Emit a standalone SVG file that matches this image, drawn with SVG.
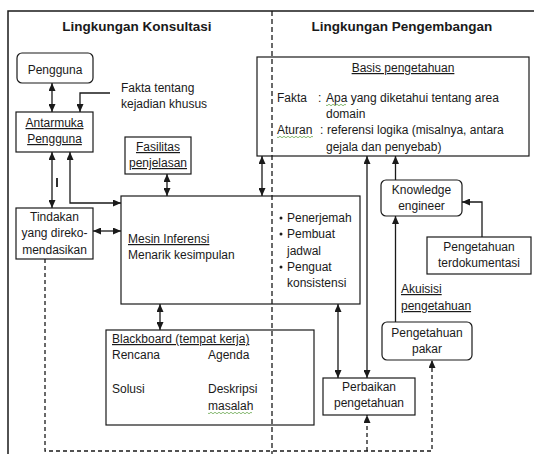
<svg xmlns="http://www.w3.org/2000/svg" width="534" height="454" viewBox="0 0 534 454">
  <style>
    text { font-family: "Liberation Sans", Arial, sans-serif; font-size: 12px; fill: #1a1a1a; }
    .title { font-size: 13.5px; font-weight: bold; }
    .c { text-anchor: middle; }
    .u { text-decoration: underline; }
    .box { fill: none; stroke: #1a1a1a; stroke-width: 1.2; }
    .frame { fill: none; stroke: #1a1a1a; stroke-width: 1.5; }
    .divider { fill: none; stroke: #1a1a1a; stroke-width: 1.3; stroke-dasharray: 5 3; }
    .link { fill: none; stroke: #1a1a1a; stroke-width: 1.3; }
    .both { marker-start: url(#ah); marker-end: url(#ah); }
    .end { marker-end: url(#ah); }
    .dash { stroke-dasharray: 4 3; }
    .spell { fill: none; stroke: #6aa84f; stroke-width: 0.8; }
  </style>
  <defs>
    <marker id="ah" viewBox="0 0 8 7" refX="8" refY="3.5" markerWidth="8" markerHeight="7" markerUnits="userSpaceOnUse" orient="auto-start-reverse">
      <path d="M0,0 L8,3.5 L0,7 z" fill="#1a1a1a"/>
    </marker>
  </defs>

  <rect width="534" height="454" fill="#ffffff"/>

  <!-- outer frame -->
  <path class="frame" d="M8,454 V11 H534"/>

  <text class="title c" x="137" y="31">Lingkungan Konsultasi</text>
  <text class="title c" x="402" y="31">Lingkungan Pengembangan</text>

  <g id="pengguna">
    <rect class="box" x="17" y="53" width="76" height="30" rx="5"/>
    <text class="c" x="55" y="74">Pengguna</text>
  </g>

  <g id="fakta-khusus">
    <text x="121" y="92">Fakta tentang</text>
    <text x="121" y="108">kejadian khusus</text>
  </g>

  <g id="antarmuka">
    <rect class="box" x="16" y="112" width="77" height="40"/>
    <text class="c u" x="54.5" y="127">Antarmuka</text>
    <text class="c u" x="54.5" y="143">Pengguna</text>
  </g>

  <g id="fasilitas">
    <rect class="box" x="125" y="137" width="66" height="37"/>
    <text class="c u" x="158" y="151">Fasilitas</text>
    <text class="c u" x="158" y="167">penjelasan</text>
  </g>

  <g id="basis">
    <rect class="box" x="257" y="57" width="272" height="99"/>
    <text class="c u" x="403" y="72">Basis pengetahuan</text>
    <text x="277" y="102">Fakta</text>
    <text x="318" y="102">:</text>
    <text x="326" y="102">Apa yang diketahui tentang area</text>
    <text x="326" y="118">domain</text>
    <text x="277" y="134">Aturan</text>
    <text x="320" y="134">:</text>
    <text x="327" y="134">referensi logika (misalnya, antara</text>
    <text x="326" y="151">gejala dan penyebab)</text>
    <path class="spell" d="M326,105 q1,1.5 2,0 t2,0 t2,0 t2,0 t2,0 t2,0 t2,0 t2,0 t2,0 t2,0"/>
    <path class="spell" d="M277,137 q1,1.5 2,0 t2,0 t2,0 t2,0 t2,0 t2,0 t2,0 t2,0 t2,0 t2,0 t2,0 t2,0 t2,0 t2,0 t2,0 t2,0 t2,0 t2,0"/>
  </g>

  <g id="tindakan">
    <rect class="box" x="16" y="208" width="77" height="51"/>
    <text class="c" x="54.5" y="221">Tindakan</text>
    <text class="c" x="54.5" y="237">yang direko-</text>
    <text class="c" x="54.5" y="254">mendasikan</text>
  </g>

  <g id="mesin">
    <rect class="box" x="121" y="196" width="239" height="108"/>
    <text class="u" x="128" y="243">Mesin Inferensi</text>
    <text x="128" y="259">Menarik kesimpulan</text>
    <circle cx="281" cy="218" r="1.5" fill="#1a1a1a"/>
    <text x="287" y="222">Penerjemah</text>
    <circle cx="281" cy="234" r="1.5" fill="#1a1a1a"/>
    <text x="287" y="238">Pembuat</text>
    <text x="287" y="255">jadwal</text>
    <circle cx="281" cy="267" r="1.5" fill="#1a1a1a"/>
    <text x="287" y="271">Penguat</text>
    <text x="287" y="287">konsistensi</text>
  </g>

  <g id="blackboard">
    <rect class="box" x="106" y="330" width="208" height="95"/>
    <text class="u" x="112" y="343">Blackboard (tempat kerja)</text>
    <text x="112" y="359">Rencana</text>
    <text x="208" y="359">Agenda</text>
    <text x="112" y="393">Solusi</text>
    <text x="208" y="393">Deskripsi</text>
    <text x="208" y="410">masalah</text>
    <path class="spell" d="M208,413 q1,1.5 2,0 t2,0 t2,0 t2,0 t2,0 t2,0 t2,0 t2,0 t2,0 t2,0 t2,0 t2,0 t2,0 t2,0 t2,0 t2,0 t2,0 t2,0 t2,0 t2,0 t2,0 t2,0"/>
  </g>

  <g id="knowledge-engineer">
    <rect class="box" x="381" y="180" width="81" height="36" rx="5"/>
    <text class="c" x="421.5" y="194">Knowledge</text>
    <text class="c" x="421.5" y="210">engineer</text>
  </g>

  <g id="terdokumentasi">
    <rect class="box" x="427" y="237" width="104" height="37"/>
    <text class="c" x="479" y="251">Pengetahuan</text>
    <text class="c" x="479" y="267">terdokumentasi</text>
  </g>

  <g id="akuisisi">
    <text class="u" x="401" y="293">Akuisisi</text>
    <text class="u" x="401" y="310">pengetahuan</text>
  </g>

  <g id="pakar">
    <rect class="box" x="382" y="322" width="90" height="38" rx="5"/>
    <text class="c" x="427" y="337">Pengetahuan</text>
    <text class="c" x="427" y="353">pakar</text>
  </g>

  <g id="perbaikan">
    <rect class="box" x="323" y="378" width="92" height="37"/>
    <text class="c" x="369" y="391">Perbaikan</text>
    <text class="c" x="369" y="407">pengetahuan</text>
  </g>

  <g id="connectors">
    <path class="link both" d="M52,83 V112"/>
    <path class="link end" d="M110,93 H80 V112"/>
    <path class="link both" d="M52,152 V208"/>
    <path class="link both" d="M70,152 V203 H121"/>
    <path class="link both" d="M93,231 H121"/>
    <path class="link both" d="M167,174 V196"/>
    <path class="link both" d="M262,156 V196"/>
    <path class="link both" d="M160,304 V330"/>
    <path class="link both" d="M338,304 V378"/>
    <path class="link both" d="M367,156 V378"/>
    <path class="link end" d="M395.5,180 V156"/>
    <path class="link end" d="M482,237 V202 H462"/>
    <path class="link end" d="M395.5,322 V216"/>
    <path class="link dash end" d="M45,259 V451 H432 V360"/>
    <path class="link dash end" d="M367,451 V415"/>
    <line x1="57" y1="178" x2="57" y2="187" stroke="#1a1a1a" stroke-width="1.8"/>
  </g>

  <!-- boundary between the two environments -->
  <path class="divider" d="M272,11 V454"/>
</svg>
